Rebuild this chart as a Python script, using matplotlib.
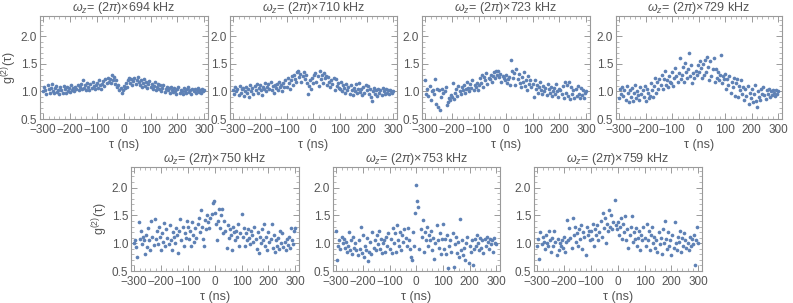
import numpy as np
import matplotlib
matplotlib.use('Agg')
import matplotlib.pyplot as plt
from matplotlib.ticker import MultipleLocator

plt.rcParams['font.family'] = ['Liberation Sans', 'DejaVu Sans']
plt.rcParams['mathtext.fontset'] = 'custom'
plt.rcParams['mathtext.it'] = 'Liberation Sans:italic'
plt.rcParams['mathtext.rm'] = 'Liberation Sans'

TAU = np.arange(-300, 301, 4)
FREQS = ['694', '710', '723', '729', '750', '753', '759']

g2_694 = [1.00, 1.08, 1.03, 0.96, 1.11, 1.05, 0.98, 1.07, 1.13, 1.01,
          0.97, 1.06, 1.10, 0.99, 1.03, 0.95, 1.08, 1.02, 0.97, 1.10,
          1.04, 0.98, 1.08, 1.01, 1.06, 0.99, 1.12, 1.03, 1.07, 1.00,
          1.09, 1.04, 1.11, 1.02, 1.08, 1.14, 1.05, 1.20, 1.07, 1.12,
          1.03, 1.15, 1.08, 1.02, 1.13, 1.06, 1.18, 1.10, 1.04, 1.12,
          1.16, 1.07, 1.20, 1.11, 1.05, 1.14, 1.19, 1.10, 1.22, 1.15,
          1.25, 1.18, 1.23, 1.16, 1.30, 1.21, 1.27, 1.13, 1.20, 1.08,
          1.12, 1.03, 1.07, 0.97, 1.02, 1.10, 1.06, 1.15, 1.09, 1.20,
          1.24, 1.16, 1.22, 1.11, 1.19, 1.25, 1.14, 1.21, 1.27, 1.17,
          1.12, 1.20, 1.08, 1.15, 1.23, 1.10, 1.18, 1.06, 1.13, 1.19,
          1.08, 1.14, 1.04, 1.10, 1.17, 1.02, 1.09, 1.13, 1.05, 1.11,
          1.01, 1.07, 1.12, 0.99, 1.05, 1.09, 1.02, 1.06, 0.98, 1.08,
          1.03, 0.99, 1.07, 1.01, 0.96, 1.05, 1.09, 0.98, 1.03, 1.00,
          0.95, 1.06, 1.01, 0.98, 1.04, 1.08, 0.99, 1.03, 0.96, 1.05,
          1.00, 1.04, 0.97, 1.02, 1.06, 0.99, 1.03, 0.97, 1.05, 1.01,
          1.02]

g2_710 = [1.02, 0.95, 1.08, 1.00, 1.05, 0.93, 1.10, 0.98, 1.04, 1.07,
          0.92, 1.01, 1.09, 0.97, 1.05, 0.90, 1.12, 1.00, 1.06, 0.96,
          1.10, 1.02, 1.14, 0.98, 1.07, 1.12, 1.03, 0.94, 1.09, 1.05,
          1.15, 1.00, 1.08, 1.13, 1.05, 1.17, 1.02, 1.10, 0.97, 1.12,
          1.06, 1.14, 1.03, 1.18, 1.09, 1.12, 1.01, 1.16, 1.08, 1.20,
          1.08, 1.24, 1.15, 1.05, 1.20, 1.28, 1.12, 1.30, 1.22, 1.18,
          1.35, 1.38, 1.26, 1.32, 1.18, 1.28, 1.36, 1.22, 1.30, 1.15,
          0.95, 1.10, 1.20, 1.05, 1.25, 1.15, 1.30, 1.34, 1.18, 1.28,
          1.10, 1.37, 1.22, 1.30, 1.16, 1.33, 1.24, 1.28, 1.12, 1.27,
          1.18, 1.08, 1.20, 1.14, 1.25, 1.03, 1.22, 1.10, 1.16, 1.06,
          1.05, 1.17, 1.00, 1.12, 1.06, 0.98, 1.14, 1.03, 1.09, 0.96,
          1.11, 1.02, 0.94, 1.07, 1.00, 1.13, 0.97, 1.04, 1.16, 0.99,
          1.05, 0.93, 1.08, 0.98, 1.12, 1.02, 1.10, 0.95, 1.04, 0.90,
          0.82, 1.00, 1.07, 0.96, 1.03, 0.91, 1.05, 0.98, 1.02, 0.94,
          1.06, 1.00, 0.95, 1.04, 0.98, 1.03, 0.96, 1.02, 1.00, 0.97,
          1.00]

g2_723 = [1.20, 0.95, 1.05, 0.92, 1.10, 0.85, 1.00, 1.02, 0.96, 1.23,
          0.78, 1.05, 0.72, 1.02, 0.67, 0.90, 1.05, 0.98, 1.00, 1.08,
          0.75, 0.80, 0.88, 0.84, 0.94, 0.90, 1.15, 0.86, 0.97, 1.05,
          0.92, 1.10, 1.00, 0.95, 1.08, 1.02, 1.12, 0.98, 1.05, 1.18,
          1.07, 1.00, 1.14, 1.06, 1.20, 1.03, 1.12, 1.08, 1.16, 1.02,
          1.11, 1.24, 1.16, 1.30, 1.08, 1.27, 1.20, 1.33, 1.14, 1.25,
          1.22, 1.30, 1.18, 1.28, 1.36, 1.25, 1.38, 1.30, 1.37, 1.26,
          1.32, 1.18, 1.28, 1.24, 1.20, 1.30, 1.15, 1.22, 1.27, 1.12,
          1.57, 1.38, 1.25, 1.34, 1.12, 1.40, 1.22, 1.31, 1.16, 1.08,
          1.26, 1.18, 1.35, 1.10, 1.21, 1.03, 1.28, 1.14, 1.20, 1.08,
          1.14, 0.90, 1.20, 1.05, 1.12, 0.98, 1.08, 1.17, 1.02, 0.95,
          1.10, 1.00, 1.06, 0.93, 1.13, 1.04, 0.97, 1.09, 0.92, 1.01,
          1.07, 0.95, 1.14, 1.00, 0.90, 1.05, 1.03, 0.96, 1.10, 0.88,
          1.18, 0.97, 1.12, 0.92, 1.18, 0.87, 1.08, 0.95, 1.03, 0.89,
          1.05, 0.92, 1.10, 0.96, 0.88, 1.07, 0.94, 1.02, 0.89, 0.98,
          1.00]

g2_729 = [0.88, 1.05, 0.95, 1.08, 0.92, 1.02, 0.85, 1.10, 0.97, 0.80,
          1.02, 0.90, 1.06, 0.83, 0.97, 1.12, 0.88, 1.00, 0.93, 0.85,
          1.08, 0.95, 1.02, 0.90, 1.10, 0.82, 1.05, 0.97, 0.88, 0.92,
          1.15, 1.03, 0.90, 1.10, 1.25, 0.98, 1.18, 1.05, 1.22, 1.12,
          1.30, 1.05, 1.22, 1.38, 1.12, 1.20, 1.08, 1.28, 1.17, 1.15,
          1.35, 1.10, 1.25, 1.42, 1.28, 1.18, 1.33, 1.60, 1.22, 1.30,
          1.45, 1.18, 1.52, 1.35, 1.25, 1.40, 1.70, 1.28, 1.48, 1.15,
          1.33, 1.25, 1.38, 1.30, 1.48, 1.35, 1.55, 1.42, 1.25, 1.50,
          1.30, 1.58, 1.35, 1.62, 1.45, 1.20, 1.55, 1.28, 1.40, 1.60,
          1.18, 1.40, 1.25, 1.35, 1.20, 1.30, 1.67, 1.15, 1.28, 1.22,
          1.32, 1.05, 1.22, 1.12, 1.28, 0.98, 1.18, 1.08, 1.25, 0.92,
          1.15, 1.22, 0.90, 1.10, 1.02, 1.20, 0.95, 1.08, 0.85, 1.05,
          0.92, 1.10, 0.78, 0.98, 0.88, 1.05, 0.80, 0.95, 1.12, 0.83,
          0.72, 1.00, 0.90, 0.85, 1.05, 0.95, 1.08, 0.93, 0.87, 1.02,
          0.96, 1.05, 0.90, 1.00, 0.94, 1.03, 0.97, 0.92, 1.02, 0.95,
          1.00]

g2_750 = [1.00, 1.05, 0.93, 0.75, 1.38, 1.08, 1.22, 0.98, 1.12, 1.05,
          0.80, 1.15, 0.93, 1.28, 1.05, 0.88, 1.40, 1.12, 0.97, 1.43,
          1.08, 1.22, 0.98, 1.30, 1.12, 0.88, 1.18, 1.03, 1.36, 0.95,
          1.25, 1.10, 0.98, 1.32, 1.05, 0.88, 1.20, 1.12, 1.00, 1.28,
          1.15, 0.83, 1.22, 1.44, 1.05, 1.30, 0.95, 1.18, 1.10, 1.40,
          1.30, 1.08, 1.22, 0.95, 1.38, 1.15, 1.02, 1.28, 1.10, 1.35,
          1.45, 1.20, 1.60, 1.30, 1.08, 0.95, 1.42, 1.25, 1.50, 1.38,
          1.28, 1.45, 1.52, 1.72, 1.75, 1.55, 1.35, 1.05, 1.40, 1.62,
          1.28, 1.50, 1.62, 1.18, 1.40, 1.22, 0.92, 1.32, 1.10, 1.25,
          1.15, 0.87, 1.30, 1.20, 1.05, 1.22, 1.12, 1.35, 0.95, 1.18,
          1.53, 1.12, 1.28, 0.95, 1.18, 1.05, 1.25, 1.10, 0.98, 1.22,
          1.15, 1.02, 1.30, 1.08, 0.90, 1.20, 0.82, 1.12, 1.00, 1.25,
          1.05, 1.35, 0.95, 1.12, 0.88, 1.20, 1.02, 1.08, 1.35, 0.92,
          1.15, 0.85, 1.05, 0.95, 1.10, 0.90, 1.22, 1.00, 1.18, 0.93,
          1.02, 0.88, 1.08, 0.96, 1.12, 0.92, 1.28, 1.05, 0.98, 1.22,
          1.28]

g2_753 = [1.22, 0.70, 0.95, 1.05, 0.90, 1.12, 1.00, 1.08, 0.92, 1.03,
          0.85, 0.95, 1.20, 0.88, 1.05, 0.80, 1.12, 0.92, 1.00, 0.87,
          0.78, 1.05, 0.90, 1.30, 0.82, 1.15, 0.75, 0.95, 0.88, 1.10,
          0.68, 0.85, 1.02, 0.80, 1.20, 0.92, 1.05, 0.88, 1.15, 0.98,
          1.22, 0.90, 1.08, 0.82, 1.00, 1.05, 0.85, 1.12, 0.95, 1.18,
          0.90, 1.08, 0.82, 1.28, 1.00, 1.18, 0.85, 1.32, 1.05, 0.95,
          1.20, 0.88, 1.15, 1.02, 1.25, 1.10, 0.95, 1.28, 1.05, 0.90,
          0.75, 0.70, 1.20, 0.95, 1.55, 2.05, 1.75, 1.65, 0.90, 1.25,
          1.12, 1.42, 0.85, 1.20, 1.05, 1.30, 0.95, 1.15, 1.05, 1.22,
          0.88, 1.10, 0.72, 1.00, 1.32, 1.05, 0.92, 1.18, 0.80, 1.08,
          1.35, 0.90, 1.08, 0.80, 1.15, 0.55, 0.95, 1.05, 0.85, 1.18,
          0.57, 0.98, 1.12, 0.82, 1.02, 0.75, 1.44, 0.88, 1.05, 0.78,
          0.92, 0.70, 1.00, 1.12, 0.65, 0.95, 0.85, 1.05, 0.60, 0.90,
          1.08, 0.95, 1.15, 1.00, 0.88, 1.10, 0.92, 1.05, 0.82, 1.08,
          0.95, 1.12, 1.02, 0.90, 1.08, 0.98, 1.05, 0.85, 1.10, 1.00,
          0.98]

g2_759 = [0.95, 1.08, 0.72, 1.20, 0.98, 1.12, 1.03, 0.90, 1.15, 1.00,
          0.95, 1.22, 1.05, 0.85, 1.10, 0.95, 1.22, 1.02, 0.78, 1.08,
          0.88, 1.00, 0.95, 1.05, 0.92, 1.12, 0.85, 1.02, 1.42, 1.05,
          1.28, 1.10, 0.92, 1.45, 1.15, 1.30, 1.02, 1.18, 0.95, 1.25,
          1.08, 1.32, 0.90, 1.20, 1.12, 0.78, 1.30, 1.15, 1.22, 1.05,
          1.22, 1.08, 1.35, 0.95, 1.25, 1.15, 1.32, 1.05, 1.20, 1.40,
          1.12, 1.55, 1.28, 1.45, 1.00, 1.35, 1.22, 1.60, 1.30, 1.50,
          1.25, 1.38, 1.78, 1.32, 1.25, 1.38, 1.15, 1.30, 1.45, 1.08,
          1.35, 1.20, 1.48, 1.05, 1.25, 0.92, 1.15, 1.30, 1.48, 1.02,
          1.20, 1.08, 1.28, 0.95, 1.10, 1.22, 0.88, 1.15, 1.05, 1.30,
          1.10, 0.95, 1.35, 1.05, 1.22, 0.88, 1.15, 1.30, 1.00, 1.12,
          0.92, 1.05, 0.85, 1.20, 0.98, 1.10, 0.80, 1.25, 1.00, 1.40,
          1.08, 0.90, 1.20, 0.95, 1.05, 0.78, 1.15, 0.92, 1.38, 1.00,
          0.88, 1.12, 1.02, 1.22, 0.85, 1.10, 0.95, 1.18, 1.05, 0.92,
          1.00, 0.88, 1.12, 0.95, 1.08, 0.98, 1.15, 0.60, 1.05, 1.30,
          1.00]

SERIES = [g2_694, g2_710, g2_723, g2_729, g2_750, g2_753, g2_759]

# axes positions in pixels: left, top, right, bottom
W, H = 793, 303
BOXES = [(40, 16, 208, 119), (230, 16, 397, 119), (422, 16, 590, 119), (616, 16, 782, 119),
         (131, 167, 299, 271), (333, 167, 500, 271), (534, 167, 702, 271)]

DOT = '#5E81B5'
FRAME = '#9a9a9a'
TXT = '#555555'

fig = plt.figure(figsize=(W / 100, H / 100), dpi=100)
for i, (freq, ys, box) in enumerate(zip(FREQS, SERIES, BOXES)):
    l, t, r, b = box
    ax = fig.add_axes([l / W, 1 - b / H, (r - l) / W, (b - t) / H])
    ax.scatter(TAU, ys, s=7, color=DOT, linewidths=0, zorder=3)
    ax.set_xlim(-312, 314)
    ax.set_ylim(0.5, 2.37)
    ax.xaxis.set_major_locator(MultipleLocator(100))
    ax.xaxis.set_minor_locator(MultipleLocator(20))
    ax.yaxis.set_major_locator(MultipleLocator(0.5))
    ax.yaxis.set_minor_locator(MultipleLocator(0.1))
    ax.tick_params(which='both', direction='in', top=True, right=True,
                   color=FRAME, labelcolor=TXT, labelsize=8.5)
    ax.tick_params(axis='x', pad=3.5)
    ax.tick_params(axis='y', pad=2)
    ax.tick_params(which='major', length=4, width=0.7)
    ax.tick_params(which='minor', length=2, width=0.5)
    for sp in ax.spines.values():
        sp.set_color(FRAME)
        sp.set_linewidth(0.8)
    ax.set_xticks([-300, -200, -100, 0, 100, 200, 300])
    ax.set_xticklabels(['\u2212300', '\u2212200', '\u2212100', '0', '100', '200', '300'])
    ax.set_xlabel('\u03c4 (ns)', color=TXT, fontsize=9, labelpad=2.5)
    if i in (0, 4):
        ax.set_ylabel('g$^{(2)}$(\u03c4)', color=TXT, fontsize=9, labelpad=1)
    ax.set_title('$\\omega_z$= (2$\\pi$)\u00d7' + freq + ' kHz', color=TXT, fontsize=9, pad=2)

fig.savefig('out.png', dpi=100)
